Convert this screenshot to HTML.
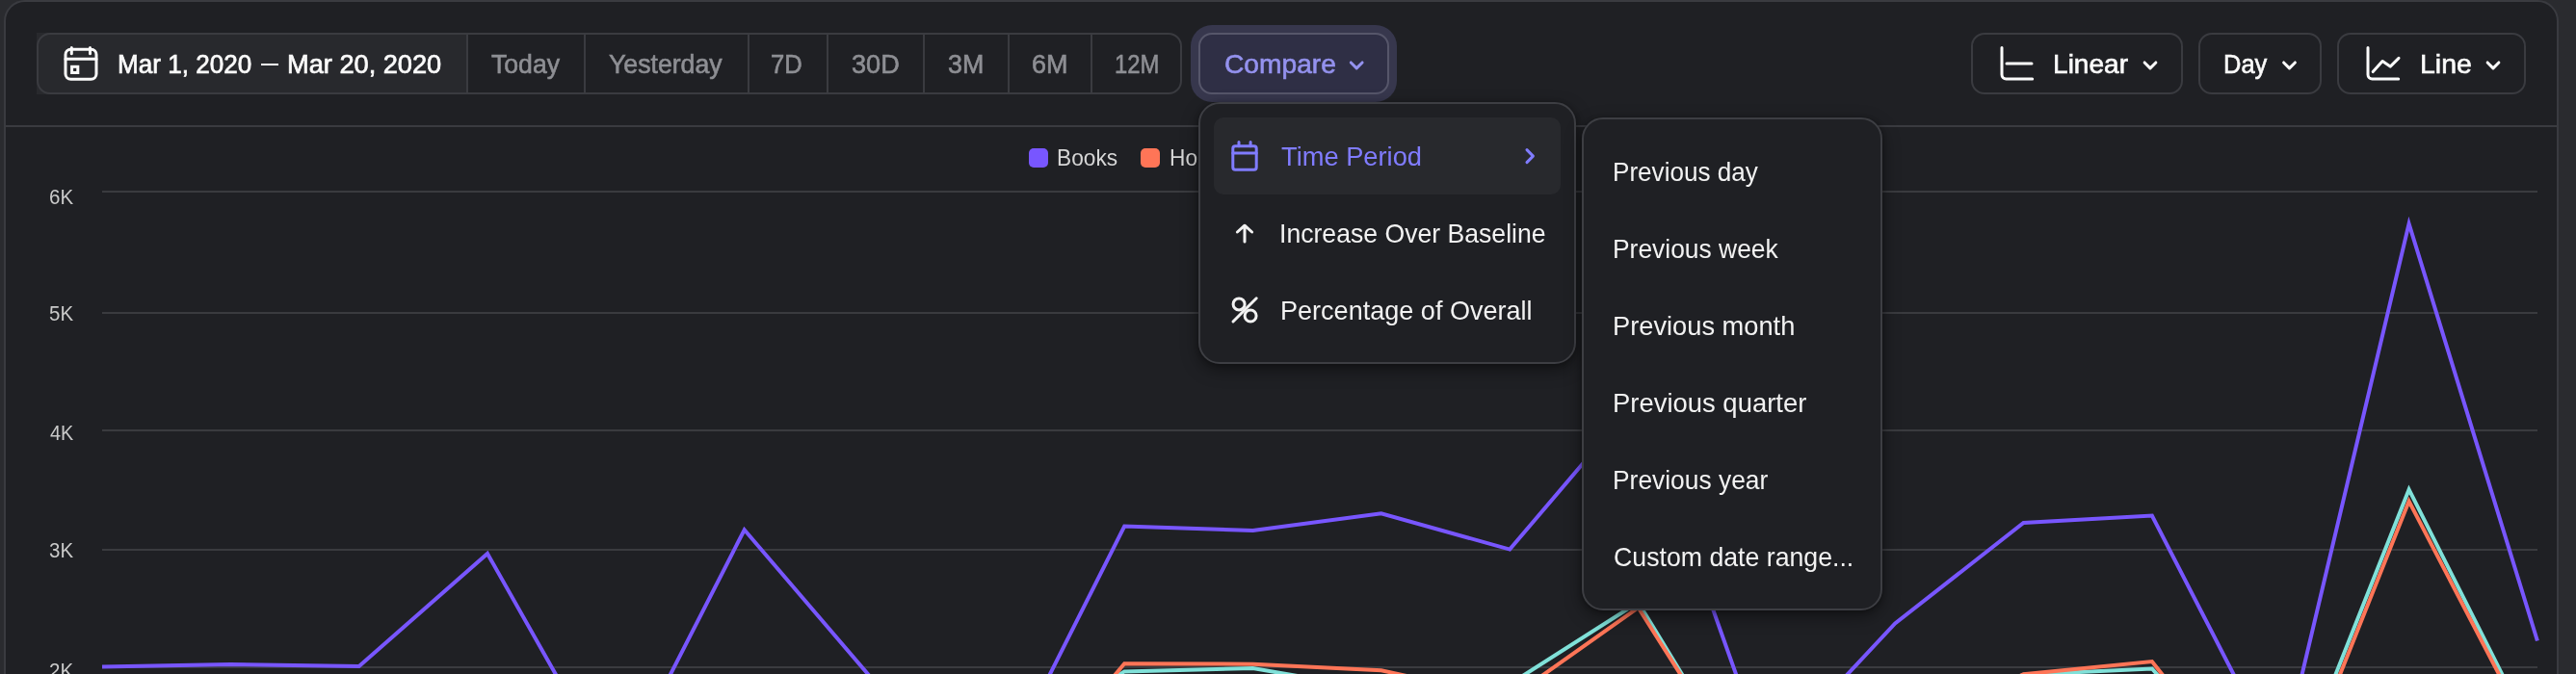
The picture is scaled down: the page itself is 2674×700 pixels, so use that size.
<!DOCTYPE html>
<html><head><meta charset="utf-8"><title>Insights</title>
<style>
html,body{margin:0;padding:0}
body{width:2674px;height:700px;overflow:hidden;background:#2a2b2f;font-family:"Liberation Sans",sans-serif;position:relative}
.card{position:absolute;left:4px;top:0;width:2648px;height:760px;border:2px solid #3a3b40;border-radius:22px;background:#1f2024}
.hr{position:absolute;left:6px;width:2648px;top:130px;height:2px;background:#3a3b40}
.t{position:absolute;white-space:nowrap;transform-origin:0 50%;display:block}
.g{position:absolute;left:106px;width:2528px;height:2px;background:#3a3b3f}
.grp{position:absolute;left:38px;top:34px;width:1185px;height:60px;border:2px solid #3a3b40;border-radius:14px}
.datebg{position:absolute;left:38px;top:34px;width:447px;height:64px;background:#28292d}
.sep{position:absolute;top:36px;width:2px;height:60px;background:#3a3b40}
.btn{position:absolute;top:34px;height:60px;border:2px solid #3a3b40;border-radius:14px}
.cmp{position:absolute;left:1244px;top:34px;width:194px;height:60px;border:2px solid #56566a;border-radius:14px;background:#2f2f45;box-shadow:0 0 0 8px #37374d}
.menu{position:absolute;border:2px solid #3d3e43;border-radius:22px;background:#1f2024;box-shadow:0 6px 18px rgba(0,0,0,.42),0 1px 5px rgba(0,0,0,.3)}
.hl{position:absolute;left:1260px;top:122px;width:360px;height:80px;border-radius:10px;background:#28292d}
.sw{position:absolute;top:154px;width:20px;height:20px;border-radius:5px}
svg{position:absolute;left:0;top:0;overflow:visible}
.ic path,.ic rect,.ic circle{fill:none;stroke-width:3;stroke-linecap:round;stroke-linejoin:round}
#root{position:absolute;left:0;top:0;width:2674px;height:700px;overflow:hidden;will-change:transform}
</style></head><body><div id="root">
<div class="card"></div>
<div class="hr"></div>
<div class="datebg"></div>
<div class="grp"></div>
<div class='sep' style='left:484px'></div><div class='sep' style='left:606px'></div><div class='sep' style='left:776px'></div><div class='sep' style='left:858px'></div><div class='sep' style='left:958px'></div><div class='sep' style='left:1046px'></div><div class='sep' style='left:1132px'></div>
<div class="cmp"></div>
<div class="btn" style="left:2046px;width:216px"></div>
<div class="btn" style="left:2282px;width:124px"></div>
<div class="btn" style="left:2426px;width:192px"></div>
<div class='g' style='top:198px'></div><div class='g' style='top:324px'></div><div class='g' style='top:446px'></div><div class='g' style='top:570px'></div><div class='g' style='top:692px'></div>
<svg width="2674" height="700" viewBox="0 0 2674 700">
<g fill="none" stroke-width="4" stroke-linejoin="miter" stroke-miterlimit="10">
<path d="M106.0 692.4 L239.3 690.0 L372.7 692.0 L506.0 575.0 L639.4 811.0 L772.7 550.3 L906.0 706.0 L1039.4 800.6 L1167.2 546.5 L1300.5 551.0 L1433.8 533.2 L1567.2 570.6 L1700.5 414.0 L1833.9 790.0 L1967.2 647.5 L2100.5 543.0 L2233.9 535.5 L2367.2 795.0 L2500.6 232.3 L2633.9 665.5" stroke="#7856ff"/>
<path d="M106.0 770.0 L239.3 770.0 L372.7 770.0 L506.0 770.0 L639.4 770.0 L772.7 770.0 L906.0 770.0 L1039.4 777.0 L1167.2 697.4 L1300.5 694.0 L1433.8 717.0 L1567.2 710.5 L1700.5 625.5 L1833.9 845.0 L1967.2 760.0 L2100.5 700.7 L2233.9 694.5 L2367.2 845.0 L2500.6 508.4 L2633.9 773.0" stroke="#80e1d9"/>
<path d="M106.0 760.0 L239.3 760.0 L372.7 760.0 L506.0 760.0 L639.4 760.0 L772.7 760.0 L906.0 760.0 L1039.4 841.0 L1167.2 689.3 L1300.5 689.7 L1433.8 696.2 L1567.2 725.5 L1700.5 631.0 L1833.9 842.0 L1967.2 760.0 L2100.5 700.3 L2233.9 687.0 L2367.2 856.0 L2500.6 520.5 L2633.9 777.0" stroke="#ff7557"/>
</g>
</svg>
<div class="sw" style="left:1068px;background:#7856ff"></div>
<div class="sw" style="left:1184px;background:#ff7557"></div>
<div class="t" style="left:271px;top:65.8px;width:18px;height:2.6px;background:#fbfbfb"></div>
<span class='t' style='left:121.8px;top:52.9px;font-size:28px;line-height:28px;color:#fbfbfb;-webkit-text-stroke:0.7px #fbfbfb;transform:scaleX(0.9312)'>Mar 1, 2020</span><span class='t' style='left:298.2px;top:52.9px;font-size:28px;line-height:28px;color:#fbfbfb;-webkit-text-stroke:0.7px #fbfbfb;transform:scaleX(0.9712)'>Mar 20, 2020</span><span class='t' style='left:509.8px;top:52.9px;font-size:28px;line-height:28px;color:#8e8f94;-webkit-text-stroke:0.6px #8e8f94;transform:scaleX(0.9509)'>Today</span><span class='t' style='left:632.3px;top:52.9px;font-size:28px;line-height:28px;color:#8e8f94;-webkit-text-stroke:0.6px #8e8f94;transform:scaleX(0.9518)'>Yesterday</span><span class='t' style='left:800.2px;top:52.9px;font-size:28px;line-height:28px;color:#8e8f94;-webkit-text-stroke:0.6px #8e8f94;transform:scaleX(0.9162)'>7D</span><span class='t' style='left:883.7px;top:52.9px;font-size:28px;line-height:28px;color:#8e8f94;-webkit-text-stroke:0.6px #8e8f94;transform:scaleX(0.9692)'>30D</span><span class='t' style='left:984.4px;top:52.9px;font-size:28px;line-height:28px;color:#8e8f94;-webkit-text-stroke:0.6px #8e8f94;transform:scaleX(0.9591)'>3M</span><span class='t' style='left:1071.1px;top:52.9px;font-size:28px;line-height:28px;color:#8e8f94;-webkit-text-stroke:0.6px #8e8f94;transform:scaleX(0.9629)'>6M</span><span class='t' style='left:1157.3px;top:52.9px;font-size:28px;line-height:28px;color:#8e8f94;-webkit-text-stroke:0.6px #8e8f94;transform:scaleX(0.8530)'>12M</span><span class='t' style='left:1270.8px;top:52.9px;font-size:28px;line-height:28px;color:#9492ee;-webkit-text-stroke:0.6px #9492ee;transform:scaleX(1.0062)'>Compare</span><span class='t' style='left:2131.4px;top:52.9px;font-size:28px;line-height:28px;color:#fbfbfb;-webkit-text-stroke:0.6px #fbfbfb;transform:scaleX(1.0034)'>Linear</span><span class='t' style='left:2308.3px;top:52.9px;font-size:28px;line-height:28px;color:#fbfbfb;-webkit-text-stroke:0.6px #fbfbfb;transform:scaleX(0.9105)'>Day</span><span class='t' style='left:2511.8px;top:52.9px;font-size:28px;line-height:28px;color:#fbfbfb;-webkit-text-stroke:0.6px #fbfbfb;transform:scaleX(1.0189)'>Line</span><span class='t' style='left:1096.8px;top:151.8px;font-size:24px;line-height:24px;color:#d6d6d6;transform:scaleX(0.9455)'>Books</span><span class='t' style='left:1213.7px;top:151.8px;font-size:24px;line-height:24px;color:#d6d6d6;transform:scaleX(0.9455)'>Home</span><span class='t' style='left:50.9px;top:193.7px;font-size:22px;line-height:22px;color:#c9c9c9;transform:scaleX(0.9327)'>6K</span><span class='t' style='left:51.0px;top:315.4px;font-size:22px;line-height:22px;color:#c9c9c9;transform:scaleX(0.9315)'>5K</span><span class='t' style='left:51.8px;top:439.4px;font-size:22px;line-height:22px;color:#c9c9c9;transform:scaleX(0.9002)'>4K</span><span class='t' style='left:51.0px;top:561.4px;font-size:22px;line-height:22px;color:#c9c9c9;transform:scaleX(0.9305)'>3K</span><span class='t' style='left:51.0px;top:686.0px;font-size:22px;line-height:22px;color:#c9c9c9;transform:scaleX(0.9320)'>2K</span>
<svg class="ic" width="2674" height="700" viewBox="0 0 2674 700">
<g stroke="#fbfbfb">
<rect x="68" y="51.2" width="32" height="31" rx="5.5"/>
<path d="M68 61.2 H100 M74.3 49.6 V55.8 M93.5 49.6 V55.8"/>
<rect x="74.6" y="69.3" width="6.2" height="6.2" style="stroke-linejoin:miter"/>
<path d="M2078 49.6 V77.4 a4.5 4.5 0 0 0 4.5 4.5 H2109.7 M2083 66 H2109"/>
<path d="M2458 49.6 V77.4 a4.5 4.5 0 0 0 4.5 4.5 H2489.7 M2463.2 74.6 L2473.1 63.5 L2481.2 69.1 L2490 60.4"/>
<path d='M2226.10 64.95 L2232 70.85 L2237.90 64.95' stroke='#fbfbfb' stroke-width='3.7'/><path d='M2370.60 64.95 L2376.5 70.85 L2382.40 64.95' stroke='#fbfbfb' stroke-width='3.7'/><path d='M2582.10 64.95 L2588 70.85 L2593.90 64.95' stroke='#fbfbfb' stroke-width='3.7'/>
</g>
<path d='M1402.30 64.95 L1408.2 70.85 L1414.10 64.95' stroke='#9492ee' stroke-width='3.7'/>
</svg>
<div class="menu" style="left:1244px;top:106px;width:388px;height:268px"></div>
<div class="menu" style="left:1642px;top:122px;width:308px;height:508px"></div>
<div class="hl"></div>
<span class='t' style='left:1330.1px;top:149.3px;font-size:28px;line-height:28px;color:#807cff;transform:scaleX(0.9740)'>Time Period</span><span class='t' style='left:1328.2px;top:229.3px;font-size:28px;line-height:28px;color:#f2f2f2;transform:scaleX(0.9503)'>Increase Over Baseline</span><span class='t' style='left:1328.7px;top:309.3px;font-size:28px;line-height:28px;color:#f2f2f2;transform:scaleX(0.9660)'>Percentage of Overall</span><span class='t' style='left:1673.7px;top:165.3px;font-size:28px;line-height:28px;color:#f2f2f2;transform:scaleX(0.9321)'>Previous day</span><span class='t' style='left:1673.6px;top:245.3px;font-size:28px;line-height:28px;color:#f2f2f2;transform:scaleX(0.9432)'>Previous week</span><span class='t' style='left:1673.6px;top:325.3px;font-size:28px;line-height:28px;color:#f2f2f2;transform:scaleX(0.9733)'>Previous month</span><span class='t' style='left:1673.6px;top:405.3px;font-size:28px;line-height:28px;color:#f2f2f2;transform:scaleX(0.9799)'>Previous quarter</span><span class='t' style='left:1673.6px;top:485.3px;font-size:28px;line-height:28px;color:#f2f2f2;transform:scaleX(0.9421)'>Previous year</span><span class='t' style='left:1674.6px;top:565.3px;font-size:28px;line-height:28px;color:#f2f2f2;transform:scaleX(0.9534)'>Custom date range...</span>
<svg class="ic" width="2674" height="700" viewBox="0 0 2674 700">
<g stroke="#807cff">
<rect x="1279.8" y="151.8" width="24.4" height="24.4" rx="2.5"/>
<path d="M1279.8 158.9 H1304.2 M1286 147.6 V151.8 M1298.1 147.6 V151.8"/>
<path d="M1585 155.6 L1591.4 162.1 L1585 168.6" stroke-width="3.3"/>
</g>
<g stroke="#f2f2f2">
<path d="M1284.4 241 L1292 234.2 L1299.6 241 M1292 234.6 V251"/>
<circle cx="1286.1" cy="315.9" r="6"/><circle cx="1298.1" cy="328" r="6"/>
<path d="M1280 334 L1304.2 309.8"/>
</g>
</svg>
</div></body></html>
